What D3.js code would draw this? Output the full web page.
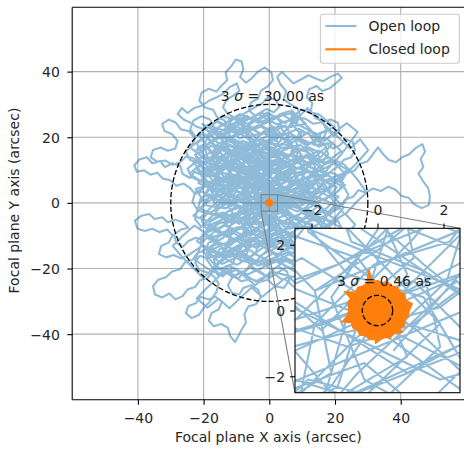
<!DOCTYPE html>
<html><head><meta charset="utf-8">
<script src="https://cdn.jsdelivr.net/npm/d3@7"></script>
<style>
body{margin:0;background:#fff}
svg{display:block}
text{font-family:"DejaVu Sans",sans-serif;fill:#262626}
</style>
</head><body>
<svg id="chart" width="464" height="450"></svg>
<script>
// ---- data (arcsec) ----
const seriesNames = ["Open loop", "Closed loop"];
const seriesColors = ["#1f77b4", "#ff7f0e"];
const mainTicks = [-40, -20, 0, 20, 40];
const insetTicks = [-2, 0, 2];
const mainDomain = [-60, 60];
const mainDomainY = [-60, 59.6];
const insetDomain = [-2.5, 2.5];
const sigmaRadii = [30.00, 0.46];
const sigmaLabelPos = [[0.97, 31.1], [0.2, 0.75]];
const xLabel = "Focal plane X axis (arcsec)";
const yLabel = "Focal plane Y axis (arcsec)";

const openLoop = [
[0.5,-1.2],[3.1,1.8],[1.2,5.4],[-2.3,7.1],[-4.8,4.2],[-7.9,6.5],[-6.1,10.3],[-9.4,12.8],[-12.7,10.1],[-10.2,6.4],[-13.8,3.9],[-16.5,7.2],[-14.1,11.6],[-11.3,15.2],[-7.6,13.4],[-4.2,16.8],[-1.5,13.1],[1.9,15.6],[4.6,12.2],[2.3,8.7],[-0.8,4.9],[0.9,1.1],[-1.4,-2.3],[-4.7,-4.9],[-8.3,-3.1],
[0.4,-3.9],[3.6,-0.8],[6.9,2.4],[10.2,-0.6],[13.4,2.6],[16.6,5.9],[19.4,2.1],[22.6,-1.4],[19.8,-4.9],[16.4,-7.6],[13.2,-4.4],[9.8,-7.9],[6.3,-10.8],[3.1,-13.9],[-0.4,-11.2],[-3.8,-13.9],[-7.3,-11.1],[-10.6,-14.2],[-14.1,-16.9],[-17.3,-19.8],[-14.2,-22.4],[-10.9,-19.6],[-7.6,-22.3],[-4.3,-25.1],[-1.1,-22.4],
[2.2,-19.6],[5.6,-17.1],[8.9,-19.8],[12.3,-16.9],[9.1,-13.8],[5.8,-10.2],[2.6,-6.6],[-0.9,-3.1],[-3.9,0.4],[-1.2,3.8],[2.1,7.1],[5.4,3.6],[8.7,6.8],[12.1,3.9],[15.3,7.2],[18.2,10.8],[21.4,14.2],[24.2,17.8],[26.9,21.6],[23.6,24.3],[20.1,21.7],[16.8,18.9],[13.4,21.4],[10.1,24.9],[6.8,28.2],
[6.9,24.1],[9.8,20.6],[6.4,17.9],[3.1,20.4],[-0.2,18.1],[-3.4,15.2],[-6.7,17.6],[-10.1,14.8],[-13.4,17.3],[-16.2,14.1],[-18.9,17.2],[-21.6,20.9],[-18.7,23.8],[-15.1,21.4],[-11.6,23.9],[-8.3,20.7],[-5.9,23.4],[-2.4,20.8],[0.9,22.6],[4.4,19.3],[7.8,16.4],[5.1,12.9],[1.6,10.3],[-1.9,12.6],[-5.3,9.4],
[-5.2,7.9],[-8.6,9.1],[-11.9,12.4],[-15.4,15.8],[-18.8,13.2],[-22.1,10.4],[-19.4,7.1],[-16.1,4.9],[-12.8,1.8],[-9.4,5.2],[-6.1,2.4],[-2.7,5.8],[0.6,8.4],[-2.6,11.6],[-5.8,14.1],[-9.1,17.4],[-12.4,20.9],[-9.2,24.2],[-5.9,21.6],[-2.6,18.4],[0.8,15.4],[4.2,12.1],[7.4,9.4],[4.1,6.2],[0.9,3.1],
[-2.4,-0.2],[-5.8,-3.4],[-9.2,-6.4],[-12.6,-3.6],[-16.1,-6.4],[-19.4,-9.1],[-22.8,-6.9],[-26.1,-9.8],[-29.4,-13.1],[-26.6,-16.4],[-23.4,-19.6],[-20.2,-22.8],[-16.9,-19.9],[-13.6,-17.1],[-10.2,-14.4],[-6.9,-17.6],[-3.6,-20.9],[-0.3,-18.4],[3.1,-15.6],[6.4,-12.9],[3.2,-9.8],[0.1,-6.4],[-2.9,-3.1],[0.4,0.2],[3.6,3.4],
[6.9,6.4],[10.2,9.6],[13.6,12.4],[16.9,9.4],[20.2,6.1],[23.6,9.1],[27.1,12.6],[30.1,16.1],[27.6,19.4],[24.6,16.6],[21.4,19.6],[18.1,22.6],[14.8,25.9],[11.6,28.9],[8.4,25.6],[5.1,22.1],[1.8,18.9],[-1.6,21.9],[-4.9,18.6],[-8.2,15.4],[-11.6,12.2],[-14.9,9.1],[-11.6,5.8],[-8.4,2.4],[-5.1,-0.9],
[-1.8,-4.2],[1.6,-7.6],[4.9,-10.9],[8.2,-14.2],[11.6,-17.4],[14.9,-20.6],[11.4,-23.4],[8.1,-26.1],[4.6,-23.1],[1.2,-25.9],[-2.2,-28.6],[-5.4,-25.8],[-8.8,-28.9],[-12.1,-32.1],[-15.4,-29.2],[-18.8,-31.9],[-22.1,-29.1],[-19.2,-26.1],[-16.1,-23.2],[-12.9,-20.1],[-9.6,-23.1],[-6.3,-19.9],[-3.1,-16.8],[0.2,-13.6],[-1.9,-10.1],
[1.4,-6.9],[-1.4,-3.6],[1.9,-0.4],[-1.2,2.8],[-4.4,6.1],[-7.6,3.1],[-10.9,0.1],[-14.2,3.2],[-11.1,6.6],[-7.8,9.8],[-4.5,12.9],[-1.2,9.6],[2.1,6.4],[5.4,9.4],[8.6,12.6],[11.9,9.4],[15.2,6.1],[18.4,2.9],[21.6,-0.3],[18.4,-3.6],[15.1,-0.6],[11.8,-3.8],[8.6,-0.6],[5.2,2.6],[1.9,0.1],
[-8.9,-2.8],[-5.6,-0.4],[-2.3,1.6],[1.2,-0.6],[4.4,-3.6],[7.6,-6.8],[10.9,-10.1],[14.2,-7.2],[17.4,-10.4],[20.6,-13.6],[23.4,-10.1],[26.1,-6.6],[23.2,-3.4],[26.4,0.1],[29.6,3.2],[27.1,6.8],[24.1,10.4],[20.9,7.6],[17.6,4.4],[14.4,1.2],[11.2,4.4],[7.9,1.6],[4.6,-1.2],[1.4,1.4],[-1.9,4.4],
[6.2,8.4],[3.4,5.1],[1.1,2.2],[-1.7,-0.6],[-4.4,1.9],[-7.1,-1.3],[-9.8,2.4],[-12.6,-0.9],[-10.1,-4.6],[-6.8,-7.9],[-3.4,-5.2],[-0.6,-1.9],[2.4,0.9],[5.6,-2.2],[8.9,-5.7],[11.8,-9.1],
[0.3,-0.8],[2.1,0.9],[2.8,3.2],[1.1,4.9],[-1.3,5.6],[-3.2,4.1],[-3.9,1.8],[-5.9,0.7],[-7.6,2.4],[-7.1,4.9],[-8.8,6.7],[-11.2,6.1],[-12.4,8.3],[-11.1,10.4],[-8.7,11.2],[-6.4,10.1],[-4.6,11.8],[-4.9,14.3],[-7.2,15.6],[-9.6,14.9],[-11.8,16.1],[-13.9,14.6],[-15.1,12.4],[-17.4,11.6],[-18.1,9.2],
[-20.4,8.4],[-22.7,9.5],[-24.1,7.6],[-26.4,8.8],[-27.1,11.2],[-29.5,12.1],[-31.8,10.9],[-33.2,12.8],[-35.6,12.1],[-37.3,13.9],[-39.6,13.2],[-41.1,11.4],[-40.3,9.5],[-38.1,9.9],[-36.2,8.6],[-34.1,9.2],[-32.4,7.4],[-30.2,6.9],[-28.3,5.2],[-26.1,5.9],[-24.2,4.6],[-22.6,2.8],[-20.3,3.5],[-18.6,1.9],[-16.4,2.6],
[-14.9,4.4],[-13.1,3.1],[-10.8,3.9],[-9.4,5.8],[-10.1,8.1],[-8.6,9.7],[-6.3,8.6],[-4.1,9.4],[-2.6,7.8],[-0.4,8.6],[0.9,10.6],[0.1,12.9],[-1.9,14.1],[-2.4,16.6],[-0.6,18.2],[1.8,17.6],[3.6,19.1],[3.1,21.6],[1.2,23.1],[-1.1,22.4],[-3.3,23.7],[-5.6,22.6],[-6.8,20.4],[-9.1,19.6],[-10.6,21.4],
[-12.9,22.6],[-13.6,25.1],[-15.9,26.2],[-17.1,28.4],[-19.6,29.1],[-21.3,31.2],[-20.6,33.6],[-18.4,34.8],[-16.1,33.9],[-14.6,35.7],[-12.8,37.4],[-13.3,39.8],[-11.6,41.6],[-10.2,43.7],[-8.4,43.1],[-7.9,40.6],[-8.9,38.4],[-7.1,36.6],[-5.4,37.9],[-3.6,39.9],[-1.4,41.2],[0.6,39.8],[1.1,37.4],[-0.4,35.6],[-2.6,34.1],
[-3.4,31.8],[-5.6,30.6],[-6.2,28.2],[-4.4,26.6],[-2.1,27.4],[-0.2,26.1],[0.4,23.6],[2.6,22.4],[4.9,23.6],[6.1,21.5],[5.4,19.1],[7.1,17.4],[6.6,14.9],[4.4,13.8],[2.9,11.9],[3.6,9.5],[2.1,7.6],[-0.1,6.4],[-1.6,4.4],[-0.8,2.1],[1.4,1.2],[1.9,-1.1],[0.2,-2.7],[-2.1,-2.1],[-3.9,-3.8],
[-5.1,-6.1],[-7.4,-6.9],[-9.1,-5.2],[-11.4,-6.1],[-12.6,-8.4],[-14.9,-9.2],[-16.1,-11.4],[-18.4,-12.1],[-19.6,-14.4],[-21.9,-15.3],[-23.4,-17.4],[-25.7,-18.1],[-27.1,-20.2],[-29.6,-20.9],[-31.4,-22.6],[-33.8,-23.4],[-35.4,-25.4],[-34.8,-27.9],[-32.6,-28.8],[-30.4,-27.6],[-28.6,-29.4],[-26.4,-28.4],[-24.9,-26.4],[-22.6,-25.6],[-21.1,-23.6],
[-18.8,-22.9],[-17.1,-20.9],[-14.8,-21.6],[-13.4,-19.4],[-11.1,-18.6],[-10.2,-16.2],[-8.1,-15.1],[-6.2,-16.6],[-4.1,-15.4],[-3.6,-12.9],[-1.4,-11.8],[0.8,-12.9],[2.6,-11.1],[2.1,-8.6],[0.1,-7.4],[-1.1,-5.2],[0.6,-3.4],[2.9,-2.6],[4.4,-0.6],[6.8,-1.1],[8.4,0.8],[10.6,0.1],[12.4,1.9],[14.6,1.2],[16.1,3.1],
[18.4,4.1],[19.9,6.2],[22.2,6.9],[23.6,9.1],[25.9,9.8],[27.6,11.9],[29.8,12.6],[31.4,14.6],[33.1,16.9],[34.6,14.9],[36.4,13.1],[38.6,12.4],[40.4,13.9],[42.6,14.8],[44.4,16.6],[46.6,17.9],[47.4,15.6],[46.1,13.4],[46.9,10.9],[45.4,8.9],[46.8,6.6],[48.4,4.4],[48.9,1.9],[48.6,-0.6],[46.4,-1.6],
[44.1,-0.4],[42.4,1.6],[40.1,2.2],[38.4,4.1],[36.1,4.9],[33.9,3.6],[31.6,4.4],[29.4,3.1],[27.1,3.9],[25.6,1.9],[23.2,1.1],[21.6,-0.9],[19.4,-1.6],[17.6,-3.4],[15.4,-2.6],[13.6,-4.4],[11.4,-3.8],[9.6,-5.6],[7.4,-4.9],[5.6,-6.6],[3.4,-5.9],[1.6,-4.1],[-0.6,-4.6],[-2.4,-2.9],[-1.9,-0.4],
[-0.1,1.4],[2.2,2.1],[3.6,4.1],[5.9,4.6],[7.4,6.6],[9.6,7.1],[10.9,9.2],[10.1,11.6],[8.1,12.9],[8.6,15.4],[10.6,16.6],[12.9,15.9],[14.1,13.6],[16.4,12.9],[17.9,14.9],[17.1,17.4],[15.1,18.6],[15.6,21.1],[17.9,22.1],[19.6,20.4],[21.4,21.9],[20.9,24.4],[18.6,25.4],[16.4,24.6],[14.1,25.9],
[12.6,27.9],[13.1,30.4],[11.4,32.1],[12.1,34.6],[14.4,35.6],[16.1,34.1],[18.4,34.9],[20.4,36.6],[22.1,38.1],[20.9,39.4],[18.6,38.4],[16.4,37.1],[14.1,37.9],[11.9,38.9],[9.6,37.6],[7.4,36.4],[5.6,38.1],[3.9,39.9],[2.4,38.4],[3.4,36.1],[5.1,34.1],[4.4,31.6],[6.4,30.1],[8.6,28.9],[9.4,26.4],
[8.1,24.1],[5.9,25.1],[3.6,24.4],[2.1,26.1],[-0.4,26.9],[-2.6,25.6],[-4.9,25.1],[-6.9,26.6],[-9.1,25.4],[-11.4,26.4],[-12.9,24.4],[-15.1,23.4],[-16.4,21.1],[-18.6,20.1],[-19.9,17.9],[-21.9,16.6],[-22.4,14.1],[-20.9,12.1],[-18.6,12.9],[-16.4,14.4],[-14.1,13.1],[-12.9,10.9],[-10.6,10.1],[-8.9,11.9],[-9.6,14.4],
[-11.9,15.6],[-14.1,17.1],[-16.6,17.6],[-18.4,19.6],[-20.6,20.9],[-22.9,20.1],[-24.6,21.9],[-26.9,22.4],[-28.4,24.4],[-30.6,25.4],[-32.6,24.1],[-31.9,21.9],[-29.6,20.9],[-27.9,18.9],[-28.6,16.6],[-30.9,15.9],[-33.1,16.9],[-35.4,16.1],[-36.1,13.9],[-34.1,12.6],[-31.6,12.9],[-29.4,11.6],[-27.1,12.4],[-25.4,14.1],[-23.1,13.6],
[-21.4,11.9],[-19.4,10.6],[-17.9,8.4],[-15.6,7.6],[-14.6,5.4],[-12.4,4.6],[-11.6,2.4],[-13.1,0.4],[-15.4,-0.4],[-16.9,-2.4],[-19.1,-3.4],[-20.6,-5.4],[-19.4,-7.6],[-17.1,-8.1],[-15.6,-6.4],[-13.4,-5.6],[-11.9,-3.6],[-9.6,-2.9],[-8.1,-0.9],[-5.9,-0.1],[-4.6,2.1],[-2.4,2.9],[-0.9,1.1],[1.4,0.4],[2.6,-1.6],
[4.9,-2.4],[6.4,-4.4],[6.1,-6.9],[4.1,-8.4],[3.6,-10.9],[5.4,-12.6],[7.6,-12.1],[9.4,-13.9],[9.1,-16.4],[7.1,-17.9],[5.1,-16.9],[3.1,-18.4],[1.1,-17.1],[-1.1,-18.1],[-3.4,-17.4],[-5.6,-18.6],[-7.1,-20.6],[-9.4,-21.4],[-11.4,-22.9],[-12.6,-25.1],[-11.4,-27.4],[-9.1,-27.9],[-7.9,-25.9],[-5.6,-25.1],[-3.4,-26.4],
[-2.6,-28.9],[-4.1,-30.9],[-6.4,-31.6],[-7.6,-33.9],[-7.1,-36.4],[-8.4,-38.6],[-9.6,-40.9],[-10.4,-42.4],[-11.9,-40.6],[-12.6,-38.1],[-14.6,-36.9],[-16.9,-37.6],[-18.4,-35.9],[-17.6,-33.6],[-15.4,-32.4],[-14.4,-30.1],[-16.4,-28.6],[-18.6,-29.4],[-20.9,-28.6],[-22.4,-30.6],[-24.6,-31.4],[-25.4,-33.6],[-23.6,-35.1],[-21.4,-34.1],[-19.9,-31.9],
[-18.1,-30.1],[-16.1,-27.1],[-15.4,-24.6],[-16.9,-22.4],[-19.1,-21.1],[-21.4,-20.4],[-22.6,-18.1],[-21.1,-16.1],[-18.9,-16.9],[-16.6,-16.1],[-15.1,-14.1],[-12.9,-13.4],[-11.4,-11.4],[-9.1,-10.6],[-7.6,-8.6],[-5.4,-9.4],[-3.4,-8.1],[-1.4,-9.1],[0.9,-8.4],[1.9,-6.1],[0.4,-4.1],[-1.6,-2.6],[-0.9,-0.1],[1.1,1.6],[0.6,4.1],
[-1.6,5.4],[-3.9,6.6],[-5.1,8.9],[-7.4,9.9],[-7.9,12.4],[-6.1,14.1],[-3.9,13.1],[-1.6,13.9],[0.4,15.6],[-0.4,18.1],[-2.6,19.4],[-4.9,18.6],[-7.1,17.6],[-9.4,18.4],[-11.6,19.6],[-13.9,20.4],[-14.6,18.1],[-13.1,16.1],[-11.1,14.6],[-12.1,12.4],[-14.4,11.1],[-16.1,9.4],[-14.9,7.4],[-12.6,6.9],[-10.4,7.9],
[-8.1,6.9],[-6.4,4.9],[-4.1,4.4],[-2.9,2.4],[-0.6,1.6],[0.9,-0.4],[3.1,-1.1],[4.6,-3.1],[6.9,-3.6],[8.9,-5.1],[11.1,-5.9],[13.4,-7.4],[15.6,-8.1],[17.4,-9.9],[19.6,-10.9],[21.4,-12.6],[23.6,-13.4],[25.4,-15.1],[24.9,-17.6],[22.6,-18.4],[20.4,-17.6],[18.1,-18.9],[16.1,-17.4],[13.9,-16.6],[12.1,-14.6],
[10.4,-12.4],[8.1,-11.6],[6.9,-9.4],[4.6,-8.6],[2.9,-10.4],[0.6,-11.1],[-1.6,-12.6],[-3.9,-11.9],[-5.6,-13.4],[-7.9,-12.9],[-9.4,-14.9],[-8.6,-17.4],[-6.4,-18.1],[-4.9,-20.4],[-2.6,-21.1],[-0.4,-22.6],[1.9,-21.9],[3.9,-23.4],[6.1,-22.6],[7.9,-24.4],[10.1,-23.6],[11.6,-21.6],[10.9,-19.1],[8.6,-18.4],[6.6,-19.9],
[4.4,-18.9],[2.6,-16.9],[1.1,-14.9],[-0.9,-13.6],[-1.4,-11.1],[0.1,-9.1],[-0.4,-6.6],[-2.1,-4.9],[-1.1,-2.6],[0.9,-1.4],[-0.1,0.9],[-2.1,2.4],[-1.6,4.9],[0.4,6.4],[2.6,7.4],[4.1,9.4],[6.4,10.4],[7.6,12.6],[9.9,13.4],[11.1,11.4],[13.4,10.4],[15.1,8.6],[17.4,8.1],[19.1,9.9],[21.1,11.1],
[22.6,13.1],[24.9,13.9],[26.1,16.1],[25.4,18.6],[23.1,19.4],[21.6,17.6],[19.4,16.6],[17.4,18.1],[15.1,17.1],[13.1,18.6],[11.1,17.6],[8.9,18.9],[6.9,20.4],[4.6,19.6],[2.4,20.9],[0.1,20.1],[-2.1,21.4],[-4.4,20.6],[-6.6,21.9],[-8.9,22.6],[-11.1,21.6],[-12.6,23.6],[-11.1,25.6],[-8.9,26.4],[-6.6,27.9],
[-4.4,29.1],[-2.1,30.4],[-0.4,32.1],[1.9,31.4],[3.1,29.4],[1.4,27.6],[-0.9,28.6],[-2.9,27.4],[-5.1,26.1],[-7.4,24.9],[-9.6,23.6],[-11.9,22.9],[-14.1,24.1],[-16.4,25.1],[-17.6,23.1],[-16.1,21.1],[-13.9,19.9],[-11.6,18.6],[-9.4,16.9],[-7.6,15.1],[-5.6,16.4],[-3.4,16.1],[-1.4,17.4],[0.9,16.9],[2.6,15.1],
[2.1,12.6],[0.1,11.4],[-1.9,9.6],[-1.4,7.1],[0.6,5.6],[1.9,3.4],[0.1,1.9],[-1.9,0.6],[-1.4,-1.9],[-3.4,-3.1],[-5.4,-4.6],[-7.6,-4.1],[-9.6,-5.4],[-11.9,-6.9],[-13.4,-9.1],[-15.6,-10.4],[-17.9,-10.1],[-20.1,-11.4],[-22.4,-10.6],[-24.6,-11.6],[-26.4,-13.4],[-28.4,-12.1],[-28.9,-9.6],[-26.9,-8.1],[-24.6,-7.6],
[-26.4,-5.9],[-28.6,-5.1],[-30.9,-5.9],[-32.6,-4.4],[-34.9,-4.9],[-36.6,-3.4],[-38.9,-3.9],[-40.9,-5.4],[-40.1,-7.9],[-37.9,-8.6],[-35.6,-7.9],[-33.4,-8.9],[-31.1,-8.1],[-29.4,-9.9],[-30.6,-12.1],[-32.9,-13.1],[-33.6,-15.6],[-31.4,-16.6],[-29.1,-15.9],[-26.9,-16.9],[-24.6,-15.9],[-22.4,-14.4],[-20.4,-13.1],[-18.1,-13.6],[-16.4,-12.1],
[-14.4,-10.9],[-12.4,-9.4],[-10.4,-8.1],[-8.1,-7.4],[-6.1,-6.1],[-3.9,-5.6],[-1.9,-6.6],[0.4,-6.1],[2.6,-5.1],[4.1,-6.9],[6.4,-7.9],[8.6,-7.1],[10.1,-8.9],[12.4,-9.9],[14.6,-11.1],[16.9,-12.1],[18.4,-14.1],[17.4,-16.4],[15.1,-15.6],[12.9,-14.1],[10.9,-15.6],[8.6,-15.1],[6.6,-13.6],[4.4,-13.1],[2.1,-13.9],
[0.1,-12.4],[-2.1,-10.9],[-4.1,-9.9],[-5.6,-7.9],[-4.9,-5.4],[-3.6,-3.1],[-4.4,-0.9],[-3.1,1.1],[-3.9,3.4],[-5.9,4.9],[-6.9,7.1],[-5.4,9.1],[-3.1,10.1],[-1.9,12.1],[-3.6,14.1],[-5.1,16.1],[-4.1,18.4],[-5.9,20.1],[-7.9,21.6],[-8.4,24.1],[-10.4,25.9],[-12.6,27.1],[-14.1,29.1],[-13.1,31.4],[-11.1,32.6],
[-9.1,34.1],[-9.9,36.4],[-11.9,35.4],[-13.9,33.4],[-16.1,32.1],[-18.4,31.1],[-20.6,29.6],[-22.9,28.9],[-24.9,27.4],[-26.6,28.9],[-27.9,27.1],[-26.1,25.4],[-23.9,24.4],[-21.9,23.1],[-19.6,22.4],[-17.4,21.6],[-15.4,20.1],[-13.4,18.4],[-11.4,17.4],[-9.6,15.6],[-7.4,14.6],[-5.4,13.1],[-3.4,11.6],[-1.4,10.6],[0.9,11.1],
[3.1,11.9],[5.4,11.4],[7.1,9.6],[8.4,7.4],[10.6,6.4],[12.4,4.6],[14.6,4.1],[16.1,6.1],[18.4,6.9],[20.6,5.9],[22.9,4.6],[24.1,2.4],[22.9,0.1],[20.9,-1.9],[18.6,-2.9],[16.4,-4.4],[14.9,-6.4],[12.9,-7.6],[10.6,-7.1],[8.4,-8.6],[6.1,-9.9],[4.1,-11.4],[1.9,-11.9],[-0.1,-10.4],[-1.4,-8.4],
[-3.1,-6.9],[-3.9,-4.6],[-2.6,-2.4],[-0.4,-1.6],[1.4,-3.1],[3.4,-2.1],[3.9,0.1],[2.9,2.4],[0.9,3.6],[-1.1,4.9],[-3.1,5.9],[-2.4,8.4],[-0.4,9.6],[1.9,9.1],[3.9,7.6],[5.9,6.6],[6.4,4.4],[5.1,2.4],[3.1,1.1],[1.1,-0.4],[-0.9,-1.1],[-2.9,-0.4],[-4.6,1.1],[-6.1,2.9],[-7.9,4.4],
[-10.6,5.6],[-12.1,8.1],[-11.4,11.1],[-13.6,13.1],[-16.4,12.4],[-18.9,14.1],[-19.6,17.1],[-17.4,19.1],[-14.6,19.9],[-12.9,22.4],[-10.1,23.4],[-7.4,22.1],[-5.9,19.6],[-3.1,18.9],[-0.6,20.4],[2.1,19.4],[3.4,16.9],[2.1,14.4],[-0.6,13.4],[-2.1,10.9],[-4.9,10.1],[-7.6,11.1],[-9.9,9.4],[-9.4,6.6],[-11.6,4.6],
[-14.4,5.6],[-16.9,4.1],[-17.6,1.4],[-15.9,-0.9],[-13.1,-1.6],[-10.4,-0.4],[-7.9,-1.9],[-6.6,-4.6],[-8.1,-7.1],[-10.9,-7.9],[-13.6,-6.9],[-16.1,-8.4],[-18.1,-6.4],[-20.9,-7.1],[-22.6,-4.9],[-21.9,-2.1],[-23.4,0.4],[-22.6,3.1],[-20.1,4.4],[-19.4,7.1],[-20.6,9.6],[-18.1,10.9],[-15.4,9.9],[-12.9,11.4],[-10.9,13.4],
[-8.1,14.1],[-6.1,12.1],[-3.4,12.9],[-1.1,14.6],[1.6,13.9],[4.1,15.1],[6.1,13.1],[5.9,10.4],[8.4,9.1],[11.1,10.1],[12.6,12.6],[11.6,15.4],[9.1,16.4],[7.9,19.1],[9.4,21.6],[12.1,21.1],[13.6,18.6],[16.4,19.6],[17.6,22.1],[16.1,24.6],[13.4,24.1],[11.1,25.6],[8.4,26.1],[6.1,27.9],[3.4,27.1],
[1.1,25.4],[-1.6,24.4],[-4.1,25.9],[-6.4,24.1],[-9.1,24.9],[-11.4,23.4],[-13.9,22.1],[-16.6,22.9],[-18.1,25.4],[-20.6,26.4],[-23.1,25.1],[-24.1,22.4],[-22.4,20.1],[-23.6,17.6],[-25.4,15.6],[-24.1,13.1],[-21.6,12.1],[-19.9,9.9],[-17.1,9.4],[-15.1,7.4],[-12.4,7.1],[-10.1,8.6],[-7.4,7.9],[-5.6,5.9],[-3.1,6.6],
[-0.6,5.1],[0.1,2.6],[-1.4,0.4],[-0.4,-2.1],[1.9,-3.4],[3.1,-5.9],[1.4,-8.1],[-1.1,-9.4],[-3.6,-8.6],[-5.9,-10.1],[-7.1,-12.6],[-9.9,-13.1],[-12.1,-14.9],[-14.9,-15.1],[-16.9,-17.1],[-16.1,-19.9],[-13.4,-20.9],[-10.9,-22.4],[-8.4,-23.9],[-5.6,-23.1],[-3.1,-24.1],[-0.4,-23.4],[1.6,-25.4],[4.4,-25.9],[6.1,-23.6],
[5.4,-20.9],[3.1,-19.6],[0.4,-20.1],[-2.1,-18.6],[-4.6,-17.4],[-6.9,-15.9],[-6.1,-13.1],[-3.4,-12.4],[-0.9,-13.9],[1.6,-13.1],[3.9,-14.6],[6.4,-13.6],[8.4,-11.4],[10.9,-11.9],[13.1,-13.6],[15.9,-13.1],[17.9,-11.1],[20.4,-9.9],[21.9,-7.4],[20.6,-4.9],[18.1,-5.6],[15.6,-4.6],[13.4,-2.9],[10.9,-1.6],[8.4,-2.6],
[5.9,-1.4],[3.4,-0.1],[1.1,1.4],[-1.1,2.9],[-3.6,2.1],[-5.9,3.6],[-8.4,2.9],[-10.9,1.9],[-13.4,2.9],[-15.9,1.9],[-18.4,2.6],[-20.9,1.4],[-21.6,-1.4],[-19.1,-2.6],[-16.6,-3.6],[-14.1,-2.9],[-11.6,-4.1],[-9.1,-3.4],[-6.6,-2.6],[-4.1,-1.1],[-1.6,-0.4],[0.9,0.6],[3.4,1.9],[5.9,3.1],[8.4,4.1],
[10.9,5.4],[13.4,6.9],[15.9,7.9],[18.4,9.4],[20.9,8.4],[22.4,6.1],[21.1,3.6],[18.6,2.1],[16.1,0.9],[13.6,-0.4],[11.1,1.1],[9.6,3.4],[10.4,6.1],[12.9,7.9],[14.1,10.4],[13.1,13.1],[10.6,14.1],[8.1,13.4],[5.6,12.1],[3.1,10.6],[0.6,9.1],[-1.9,7.9],[-4.4,7.4],[-6.9,6.1],[-9.4,6.9],
[-11.9,8.9],[-14.4,9.1],[-16.9,10.4],[-18.4,12.9],[-20.9,13.9],[-22.9,12.1],[-24.9,10.4],[-23.6,7.9],[-21.1,6.6],[-18.6,5.9],[-16.1,7.1],[-13.6,6.4],[-11.1,5.4],[-8.6,5.9],[-6.1,7.1],[-3.6,8.1],[-1.1,7.4],[1.4,6.1],[3.9,5.9],[6.4,6.9],[8.1,8.9],[7.1,11.4],[4.6,12.6],[2.1,12.1],[-0.4,11.1],
[-2.9,9.9],[-5.4,9.4],[-7.9,10.4],[-10.4,11.9],[-12.9,12.6],[-15.4,13.9],[-16.9,16.1],[-15.4,18.1],[-12.9,18.9],[-10.4,18.1],[-7.9,18.9],[-5.4,17.9],[-2.9,16.6],[-0.4,16.1],[2.1,17.1],[4.6,17.9],[7.1,17.1],[9.6,16.1],[12.1,16.9],[14.6,15.6],[15.4,13.1],[17.9,12.1],[20.4,12.9],[22.9,11.6],[24.6,9.6],
[19.1,12.8],[13.4,9.9],[15.2,3.7],[9.8,0.4],[4.1,3.1],[-1.9,0.6],[-6.3,5.1],[-12.8,3.9],[-16.1,9.6],[-10.4,12.7],[-4.6,15.9],[1.8,14.2],[6.9,18.1],[3.2,23.4],[-2.9,21.1],[-8.6,24.3],[-13.9,20.6],[-19.4,17.3],[-15.1,12.1],[-20.8,8.4],
[-17.2,2.9],[-21.6,-2.4],[-15.3,-4.1],[-9.6,-0.9],[-3.4,-3.6],[2.7,-1.2],[8.3,-4.4],[12.6,0.2],[18.1,-2.9],[14.9,-8.6],[9.2,-11.7],[3.6,-8.1],[-2.2,-10.9],[-7.9,-7.4],[-13.6,-10.2],[-18.8,-13.9],[-12.4,-16.1],[-6.1,-14.3],[-0.8,-17.6],[5.4,-15.2],
[10.9,-18.4],[7.3,-22.6],[1.4,-21.1],[-4.2,-23.9],[-9.8,-20.4],[-15.6,-22.1],[-19.1,-17.2],[-16.4,-11.6],[-21.3,-7.9],[-16.8,-3.4],[-11.2,-6.2],[-5.4,-4.8],[-0.3,-6.9],[4.9,-3.3],[10.6,-6.1],[16.3,-4.2],[21.7,-7.6],[19.4,-13.1],[13.8,-12.3],[8.4,-15.9],
[2.6,-13.4],[-3.1,-16.3],[-8.7,-12.6],[-14.2,-15.4],[-11.6,-9.8],[-6.9,-5.9],[-1.2,-2.3],[0.6,3.4],[-4.8,6.7],[-10.9,8.6],[-16.7,6.1],[-22.4,4.2],[-19.1,-0.8],[-13.4,-1.7],[-7.6,1.9],[-2.1,5.3],[3.6,7.9],[9.1,5.2],[14.7,7.3],[20.6,4.8],
[16.9,0.6],[11.3,3.4],[6.2,0.9],[0.9,-1.9],[-4.3,1.4],[-9.8,3.6],[-14.1,-0.3],[-19.6,2.7],[-16.2,8.1],[-11.9,12.9],[-6.2,10.2],[-0.4,8.3],[5.7,11.1],[11.2,14.6],[16.8,11.9],[21.9,15.8],[17.4,19.7],[11.6,17.9],[6.1,21.4],[0.4,19.1],
[-5.4,17.3],[-11.1,18.9],[-17.3,21.6],[-22.1,18.1],[-18.6,12.7],[-13.2,14.9],[-7.8,13.1],[-2.4,11.4],[3.1,13.6],[8.7,10.4],[13.9,13.2],[9.6,17.6],[4.2,16.8],[-1.1,15.2],[-6.9,19.8],[-12.6,23.4],[-7.1,26.1],[-1.6,24.1],[4.1,26.8],[9.3,23.6],
[14.6,20.9],[19.8,23.1],[15.2,26.9],[9.7,28.4],[4.9,24.3],[-0.6,27.6],[-5.9,23.9],[-10.4,21.3],[-15.8,24.8],[-20.6,21.9],[-16.3,16.8],[-10.7,15.4],[-5.1,12.6],[0.4,10.9],[6.3,7.6],[11.8,9.4],[17.2,6.9],[22.8,9.1],[18.3,13.9],[12.4,11.8],
[7.1,14.9],[1.6,12.1],[-3.9,14.8],[-9.3,11.1],[-14.8,10.4],[-20.1,12.6],[-24.3,8.9],[-19.2,5.6],[-13.9,6.9],[-8.4,5.8],[-2.9,2.9],[2.4,5.6],[7.8,3.1],[13.1,4.9],[18.7,1.6],[22.9,-3.4],[17.6,-6.8],[12.1,-8.9],[6.9,-6.4],[1.2,-4.6],
[-4.4,-7.9],[-10.1,-11.4],[-15.9,-8.1],[-20.4,-11.9],[-22.6,-17.4],[-17.9,-20.6],[-12.1,-19.3],[-6.6,-21.8],[-1.4,-19.4],[3.8,-17.1],[9.6,-19.9],[14.8,-16.4],[17.1,-10.8],[11.7,-13.9],[6.1,-11.4],[0.6,-13.1],[-5.1,-10.6],[-10.8,-14.9],[-16.4,-16.9],[-21.1,-12.3],
[-18.4,-6.9],[-12.9,-4.4],[-7.4,-2.1],[-1.8,-0.4],[3.9,1.6],[9.4,-0.9],[14.6,1.9],[19.9,-0.6],[15.4,-5.4],[9.9,-3.1],[4.4,-5.6],[-1.1,-8.4],[-6.4,-11.9],[-11.8,-8.6],[-17.2,-10.4],[-13.6,-14.6],[-8.1,-17.9],[-2.6,-14.1],[2.9,-10.6],[8.1,-8.4],
[13.6,-10.9],[18.9,-8.4],[14.1,-3.9],[8.6,-1.6],[3.1,0.4],[-2.4,2.6],[-8.1,0.9],[-13.4,3.4],[-18.6,0.4],[-23.1,-3.9],[-18.1,-5.8],[-12.4,-2.6],[-6.8,-0.6],[-1.2,1.4],[4.4,4.6],[9.9,7.1],[15.4,9.8],[20.4,12.4],[15.1,15.9],[9.4,13.1],
[3.9,15.4],[-1.6,17.9],[-7.4,16.1],[-12.9,17.4],[-18.4,15.1],[-23.1,12.4],[-19.6,7.9],[-14.1,9.1],[-8.6,7.4],[-3.1,9.1],[2.4,6.9],[7.9,9.6],[12.9,6.4],[8.1,2.9],[2.6,1.1],[-2.9,-1.4],[-8.4,-3.4],[-13.9,-6.1],[-9.1,-9.4],[-3.6,-12.1],
[1.9,-15.9],[7.4,-13.4],[12.9,-15.6],[16.4,-19.9],[10.9,-21.9],[5.4,-19.4],[-0.1,-22.9],[-5.6,-19.6],[-11.1,-22.6],[-16.6,-18.9],[-20.4,-14.6],[-14.9,-12.1],[-9.4,-15.1],[-3.9,-18.4],[1.6,-15.1],[6.9,-17.6],[11.4,-13.4],[6.4,-9.6],[0.9,-6.4],[-4.6,-3.1],
[-10.1,-0.4],[-15.6,2.4],[-21.1,0.4],[-17.6,4.9],[-12.1,7.6],[-6.6,10.6],[-1.1,13.4],[4.4,11.9],[9.9,14.6],[5.4,18.9],[-0.1,21.6],[-5.6,20.4],[-11.1,22.9],[-16.6,19.6],[-21.4,16.1],[-17.1,11.4],[-11.6,10.1],[-6.1,8.4],[-0.6,6.1],[4.9,8.6],
[10.4,11.4],[15.9,14.1],[19.4,18.4],[13.9,17.6],[8.4,20.1],[2.9,17.6],[-2.6,19.4],[-8.1,17.9],[-13.6,14.6],[-19.1,10.6],[-14.4,5.4],[-8.9,3.1],[-3.4,5.9],[2.1,3.6],[7.6,6.1],[12.4,2.4],[7.1,-1.1],[1.6,-3.9],[-3.9,-6.6],[-9.4,-4.1],
[-14.9,-7.4],[-20.4,-9.6],[-15.1,-13.1],[-9.6,-10.9],[-4.1,-13.6],[1.4,-11.1],[6.9,-13.9],[12.1,-10.6],[17.6,-13.1],[21.9,-10.1],[16.6,-6.1],[11.1,-4.6],[5.6,-7.9],[0.1,-9.9],[-5.4,-7.1],[-10.9,-5.6],[-16.4,-2.9],[-11.9,1.9],[-6.4,-0.9],[-0.9,-2.6],
[4.6,-0.1],[10.1,2.1],[15.6,4.4],[21.1,1.9],[16.9,-2.1],[11.4,0.1],[5.9,2.4],[0.4,4.9],[-5.1,3.1],[-10.6,5.4],[-16.1,3.4],[-21.6,6.1],[-17.4,9.9],[-11.9,12.1],[-6.4,14.4],[-0.9,16.6],[4.6,14.1],[10.1,16.4],[14.4,19.6],[8.9,22.6],
[3.4,20.4],[-2.1,23.4],[-7.6,21.4],[-13.1,19.4],[-18.6,23.1],[-14.1,26.4],[-8.6,24.9],[-3.1,26.9],[2.4,23.9],[7.9,25.9],[4.4,21.4],[-1.1,18.9],[-6.6,16.9],[-12.1,15.1],[-17.6,17.4],[-22.6,14.6],[-18.1,10.4],[-12.6,11.9],[-7.1,9.6],[-1.6,11.6],
[3.9,9.1],[9.4,10.9],[14.9,8.4],[19.6,5.1],[14.1,2.6],[8.6,4.9],[3.1,2.1],[-2.4,4.4],[-7.9,6.9],[-13.4,4.6],[-18.9,6.6],[-14.6,1.1],[-9.1,-1.6],[-3.6,0.6],[1.9,-2.1],[7.4,-0.6],[12.9,-2.9],[8.4,-6.9],[2.9,-5.1],[-2.6,-7.4],
[-8.1,-9.6],[-13.6,-12.4],[-19.1,-15.1],[-14.4,-18.6],[-8.9,-16.1],[-3.4,-19.1],[2.1,-17.4],[7.6,-20.9],[12.9,-18.1],[9.4,-14.1],[3.9,-12.4],[-1.6,-9.6],[-7.1,-12.9],[-12.6,-10.4],[-18.1,-7.9],[-22.1,-11.6],[-17.6,-14.9],[-12.1,-16.6],[-6.6,-13.9],[-1.1,-11.1],
[4.4,-8.6],[9.9,-11.4],[15.4,-8.9],[20.9,-5.4],[15.9,-2.4],[10.4,-4.9],[4.9,-2.9],[-0.6,-0.1],[-6.1,2.1],[-11.6,-0.6],[-17.1,1.6],[-12.6,5.9],[-7.1,4.6],[-1.6,7.4],[3.9,5.1],[9.4,2.6],[14.9,0.1],[10.4,-2.4],[4.9,0.9],[-0.6,3.1],
[-6.1,5.6],[-11.6,8.9],[-17.1,6.4],[-20.6,11.9],[-15.1,14.1],[-9.6,16.4],[-4.1,18.9],[1.4,21.1],[6.9,18.4],[12.4,21.9],[17.4,17.1],[12.1,12.4],[6.6,12.9],[1.1,9.6],[-4.4,12.4],[-9.9,13.9],[-15.4,17.1],[-10.9,20.6],[-5.4,22.6],[0.1,24.9],
[5.6,22.9],[11.1,24.1],[7.6,27.4],[2.1,26.4],[-3.4,24.4],[-8.9,27.1],[-14.4,23.6],[-19.9,20.1],[-24.1,16.9],[-19.6,13.4],[-14.1,11.9],[-8.6,10.1],[-3.1,7.9],[2.4,9.6],[7.9,12.4],[13.4,10.6],[18.4,8.1],[23.1,5.4],[18.9,2.1],[13.4,-0.1],
[7.9,2.4],[2.4,-0.1],[-3.1,-2.4],[-8.6,-5.1],[-14.1,-3.4],[-19.6,-6.1],[-15.1,-9.4],[-9.6,-7.4],[-4.1,-9.9],[1.4,-7.1],[6.9,-9.4],[11.9,-6.1],[17.4,-9.4],[12.1,-12.6],[6.6,-15.4],[1.1,-18.1],[-4.4,-15.6],[-9.9,-18.9],[-15.4,-15.9],[-10.9,-12.1],
[-5.4,-9.1],[0.1,-5.4],[5.6,-3.6],[1.1,0.9],[-4.4,-0.9],[-9.9,1.4],[-15.4,-1.6],[-20.9,-4.4],[-16.4,-0.1],[-10.9,4.1],[-5.4,7.9],[0.1,5.6],[5.6,7.6],[11.1,4.6],[16.6,7.9],[11.4,10.1],[5.9,10.9],[0.4,12.9],[-5.1,10.9],[-10.6,14.9],
[-16.1,12.6],[-21.1,9.1],[-16.6,4.1],[-11.1,2.1],[-5.6,-0.6],[-0.1,1.9],[5.4,4.1],[10.9,7.4],[16.4,10.6],[11.9,15.4],[6.4,16.9],[0.9,14.6],[-4.6,16.4],[-10.1,19.1],[-15.6,21.4],[-20.4,24.1],[-15.9,18.4],[-10.4,17.1],[-4.9,14.1],[0.6,11.4]
];

const closedLoop = [
[0.95,0],[1.04,0.2],[0.85,0.31],[0.82,0.48],[0.67,0.57],[0.59,0.7],[0.43,0.74],[0.31,0.85],[0.15,0.83],[0,0.9],[-0.15,0.84],[-0.27,1.23],[-0.3,0.83],[-0.43,0.74],[-0.59,0.7],[-0.66,0.55],[-0.97,0.56],[-0.8,0.37],[-0.89,0.24],[-0.86,0],[-0.91,-0.16],[-1.05,-0.34],[-0.78,-0.36],[-0.74,-0.52],[-0.6,-0.6],[-0.52,-0.74],[-0.35,-0.76],[-0.23,-0.87],[-0.07,-0.86],[-0.05,-0.98],[0.08,-0.88],[0.22,-0.81],[0.38,-0.82],[0.49,-0.7],[0.74,-0.65],[0.65,-0.55],[0.8,-0.46],[0.81,-0.29],[0.92,-0.16],[0.95,0]
];

// ---- layout ----
const svg = d3.select("#chart");
const x = d3.scaleLinear().domain(mainDomain).range([72.2, 466.4]);
const y = d3.scaleLinear().domain(mainDomainY).range([399.8, 7.3]);
const xi = d3.scaleLinear().domain(insetDomain).range([295, 460]);
const yi = d3.scaleLinear().domain(insetDomain).range([392.7, 228.3]);
const FS = 14;
const gridColor = "#b0b0b0";
const openColor = seriesColors[0], closedColor = seriesColors[1];
const intFmt = d3.format("d");

const defs = svg.append("defs");
defs.append("clipPath").attr("id", "clipMain").append("rect")
  .attr("x", x.range()[0]).attr("y", y.range()[1])
  .attr("width", x.range()[1] - x.range()[0]).attr("height", y.range()[0] - y.range()[1]);
defs.append("clipPath").attr("id", "clipInset").append("rect")
  .attr("x", xi.range()[0]).attr("y", yi.range()[1])
  .attr("width", xi.range()[1] - xi.range()[0]).attr("height", yi.range()[0] - yi.range()[1]);

// grid
const grid = svg.append("g");
grid.selectAll(".gx").data(mainTicks).join("line")
  .attr("x1", d => x(d)).attr("x2", d => x(d)).attr("y1", y.range()[0]).attr("y2", y.range()[1])
  .attr("stroke", gridColor).attr("stroke-width", 1.1);
grid.selectAll(".gy").data(mainTicks).join("line")
  .attr("y1", d => y(d)).attr("y2", d => y(d)).attr("x1", x.range()[0]).attr("x2", x.range()[1])
  .attr("stroke", gridColor).attr("stroke-width", 1.1);

// main plot content
const plot = svg.append("g").attr("clip-path", "url(#clipMain)");
const lineMain = d3.line().x(d => x(d[0])).y(d => y(d[1]));
plot.append("path").attr("d", lineMain(openLoop)).attr("fill", "none")
  .attr("stroke", openColor).attr("stroke-opacity", 0.5).attr("stroke-width", 2.1)
  .attr("stroke-linejoin", "round").attr("stroke-linecap", "round");
plot.append("path").attr("d", lineMain(closedLoop)).attr("fill", closedColor)
  .attr("stroke", closedColor).attr("stroke-width", 2).attr("stroke-linejoin", "round");
plot.append("circle").attr("cx", x(0)).attr("cy", y(0)).attr("r", x(sigmaRadii[0]) - x(0))
  .attr("fill", "none").attr("stroke", "#000").attr("stroke-width", 1.3).attr("stroke-dasharray", "5.2,2.3");

function sigmaText(g, px, py, r) {
  const t = g.append("text").attr("x", px).attr("y", py).attr("text-anchor", "middle")
    .attr("font-size", FS);
  t.append("tspan").text("3 ");
  t.append("tspan").attr("font-style", "italic").text("σ");
  t.append("tspan").text(" = " + r.toFixed(2) + " as");
}
sigmaText(svg, x(sigmaLabelPos[0][0]), y(sigmaLabelPos[0][1]), sigmaRadii[0]);

// inset indicator
svg.append("rect").attr("x", x(insetDomain[0])).attr("y", y(insetDomain[1]))
  .attr("width", x(insetDomain[1]) - x(insetDomain[0])).attr("height", y(insetDomain[0]) - y(insetDomain[1]))
  .attr("fill", "none").attr("stroke", "#808080").attr("stroke-width", 1.1);
svg.append("line").attr("x1", x(insetDomain[1])).attr("y1", y(insetDomain[1]))
  .attr("x2", xi.range()[1]).attr("y2", yi.range()[1]).attr("stroke", "#808080").attr("stroke-width", 1.1);
svg.append("line").attr("x1", x(insetDomain[0])).attr("y1", y(insetDomain[0]))
  .attr("x2", xi.range()[0]).attr("y2", yi.range()[0]).attr("stroke", "#808080").attr("stroke-width", 1.1);

// main axes
const xAxis = svg.append("g").attr("transform", `translate(0,${y.range()[0]})`)
  .call(d3.axisBottom(x).tickValues(mainTicks).tickFormat(intFmt).tickSize(4.9).tickPadding(4));
const yAxis = svg.append("g").attr("transform", `translate(${x.range()[0]},0)`)
  .call(d3.axisLeft(y).tickValues(mainTicks).tickFormat(intFmt).tickSize(4.9).tickPadding(7.5));
[xAxis, yAxis].forEach(a => {
  a.select(".domain").remove();
  a.selectAll(".tick line").attr("stroke", "#000").attr("stroke-width", 1.1);
  a.selectAll(".tick text").attr("font-size", FS).attr("font-family", "DejaVu Sans").attr("fill", "#262626");
});
xAxis.selectAll(".tick text").attr("y", 23).attr("dy", 0);
yAxis.selectAll(".tick text").attr("dy", "0.36em");

// spines
const spine = svg.append("g").attr("fill", "none").attr("stroke", "#000").attr("stroke-width", 1.1);
spine.append("line").attr("x1", x.range()[0]).attr("x2", x.range()[0]).attr("y1", y.range()[0]).attr("y2", y.range()[1]);
spine.append("line").attr("x1", x.range()[0]).attr("x2", x.range()[1]).attr("y1", y.range()[0]).attr("y2", y.range()[0]);
spine.append("line").attr("x1", x.range()[0]).attr("x2", x.range()[1]).attr("y1", y.range()[1]).attr("y2", y.range()[1]);
spine.append("line").attr("x1", x.range()[1]).attr("x2", x.range()[1]).attr("y1", y.range()[0]).attr("y2", y.range()[1]);

// axis labels
svg.append("text").attr("x", (x.range()[0] + x.range()[1]) / 2 - 1).attr("y", 442)
  .attr("text-anchor", "middle").attr("font-size", FS).text(xLabel);
svg.append("text").attr("transform", `translate(18.5,${(y.range()[0] + y.range()[1]) / 2 - 3}) rotate(-90)`)
  .attr("text-anchor", "middle").attr("font-size", FS).text(yLabel);

// legend
const lg = svg.append("g");
const lgRight = x.range()[1] - 7, lgTop = y.range()[1] + 7;
lg.append("rect").attr("x", lgRight - 139).attr("y", lgTop).attr("width", 139).attr("height", 49)
  .attr("rx", 3).attr("fill", "#fff").attr("fill-opacity", 0.8).attr("stroke", "#cccccc").attr("stroke-width", 1.1);
seriesNames.forEach((name, i) => {
  const cy = lgTop + 11.7 + i * 23.3;
  lg.append("line").attr("x1", lgRight - 134).attr("x2", lgRight - 103).attr("y1", cy).attr("y2", cy)
    .attr("stroke", seriesColors[i]).attr("stroke-opacity", i === 0 ? 0.5 : 1).attr("stroke-width", 2.1);
  lg.append("text").attr("x", lgRight - 91).attr("y", cy + 5).attr("font-size", FS).text(name);
});

// inset
const inset = svg.append("g");
inset.append("rect").attr("x", xi.range()[0]).attr("y", yi.range()[1])
  .attr("width", xi.range()[1] - xi.range()[0]).attr("height", yi.range()[0] - yi.range()[1]).attr("fill", "#fff");
const ip = inset.append("g").attr("clip-path", "url(#clipInset)");
const lineInset = d3.line().x(d => xi(d[0])).y(d => yi(d[1]));
ip.append("path").attr("d", lineInset(openLoop)).attr("fill", "none")
  .attr("stroke", openColor).attr("stroke-opacity", 0.5).attr("stroke-width", 2.1)
  .attr("stroke-linejoin", "round").attr("stroke-linecap", "round");
ip.append("path").attr("d", lineInset(closedLoop)).attr("fill", closedColor)
  .attr("stroke", closedColor).attr("stroke-width", 2).attr("stroke-linejoin", "miter");
ip.append("circle").attr("cx", xi(0)).attr("cy", yi(0)).attr("r", xi(sigmaRadii[1]) - xi(0))
  .attr("fill", "none").attr("stroke", "#000").attr("stroke-width", 1.3).attr("stroke-dasharray", "5.2,2.3");
sigmaText(ip, xi(sigmaLabelPos[1][0]), yi(sigmaLabelPos[1][1]), sigmaRadii[1]);
inset.append("rect").attr("x", xi.range()[0]).attr("y", yi.range()[1])
  .attr("width", xi.range()[1] - xi.range()[0]).attr("height", yi.range()[0] - yi.range()[1])
  .attr("fill", "none").attr("stroke", "#000").attr("stroke-width", 1.1);
const ixAxis = inset.append("g").attr("transform", `translate(0,${yi.range()[1]})`)
  .call(d3.axisTop(xi).tickValues(insetTicks).tickFormat(intFmt).tickSize(4.9).tickPadding(4));
const iyAxis = inset.append("g").attr("transform", `translate(${xi.range()[0]},0)`)
  .call(d3.axisLeft(yi).tickValues(insetTicks).tickFormat(intFmt).tickSize(4.9).tickPadding(5));
[ixAxis, iyAxis].forEach(a => {
  a.select(".domain").remove();
  a.selectAll(".tick line").attr("stroke", "#000").attr("stroke-width", 1.1);
  a.selectAll(".tick text").attr("font-size", FS).attr("font-family", "DejaVu Sans").attr("fill", "#262626");
});
ixAxis.selectAll(".tick text").attr("y", -13.5).attr("dy", 0);
iyAxis.selectAll(".tick text").attr("dy", "0.36em");
</script>
</body></html>
